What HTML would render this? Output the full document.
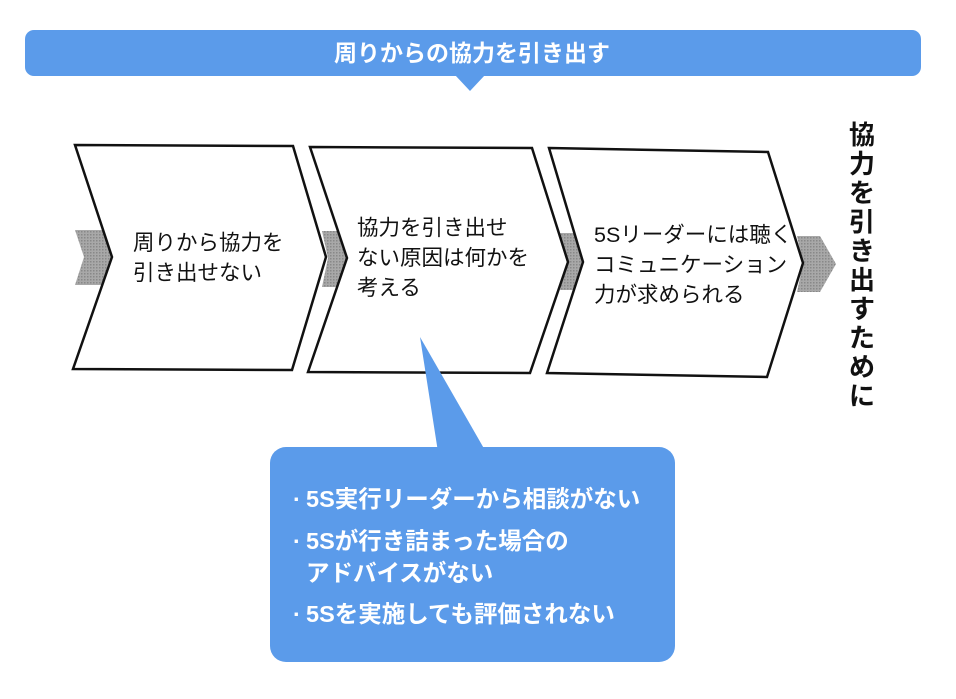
<!DOCTYPE html>
<html><head><meta charset="utf-8"><style>
body{margin:0;width:956px;height:694px;background:#fff;overflow:hidden;font-family:"Liberation Sans","Noto Sans CJK JP",sans-serif;}
</style></head><body>
<svg width="956" height="694" viewBox="0 0 956 694" xmlns="http://www.w3.org/2000/svg" font-family="Liberation Sans, Noto Sans CJK JP, sans-serif">
<defs>
<pattern id="g" width="3" height="3" patternUnits="userSpaceOnUse"><rect width="3" height="3" fill="#a8a8a8"/><rect width="1.5" height="1.5" fill="#888"/></pattern>
</defs>
<rect x="25" y="30" width="896" height="46" rx="9" fill="#5b9bea"/>
<polygon points="455,75 485,75 470,91" fill="#5b9bea"/>
<text x="472" y="61" font-size="23" font-weight="bold" fill="#fff" text-anchor="middle">周りからの協力を引き出す</text>
<polygon points="75,230 102,230 112,257 102,285 75,285 84,257" fill="url(#g)"/>
<polygon points="322,231 340,231 347,258 340,287 322,287 328,258" fill="url(#g)"/>
<polygon points="560,233 577,233 583,262 577,290 560,290 566,262" fill="url(#g)"/>
<polygon points="797,236 820,236 836,264 820,292 797,292 803,264" fill="url(#g)"/>
<g fill="#fff" stroke="#111" stroke-width="2.5" stroke-linejoin="miter">
<polygon points="75,145 293,146 326,257 292,370 73,369 112,257"/>
<polygon points="310,147 532,148 568,262 530,373 308,372 347,258"/>
<polygon points="549,148 768,152 803,263 767,377 547,373 583,262"/>
</g>
<g font-size="21.5" fill="#111">
<text x="133" y="250">周りから協力を</text>
<text x="133" y="280">引き出せない</text>
<text x="357" y="235">協力を引き出せ</text>
<text x="357" y="265">ない原因は何かを</text>
<text x="357" y="295">考える</text>
<text x="594" y="242">5Sリーダーには聴く</text>
<text x="594" y="272">コミュニケーション</text>
<text x="594" y="302">力が求められる</text>
</g>
<g font-size="26" font-weight="bold" fill="#111" text-anchor="middle">
<text x="862" y="144">協</text><text x="862" y="173">力</text><text x="862" y="202">を</text>
<text x="862" y="231">引</text><text x="862" y="260">き</text><text x="862" y="289">出</text>
<text x="862" y="318">す</text><text x="862" y="347">た</text><text x="862" y="376">め</text>
<text x="862" y="405">に</text>
</g>
<polygon points="420,337 438,452 486,452" fill="#5b9bea"/>
<rect x="270" y="447" width="405" height="215" rx="16" fill="#5b9bea"/>
<g font-size="23.5" fill="#fff" font-weight="bold">
<text x="293" y="507">·</text><text x="306" y="507">5S実行リーダーから相談がない</text>
<text x="293" y="549">·</text><text x="306" y="549">5Sが行き詰まった場合の</text>
<text x="306" y="581">アドバイスがない</text>
<text x="293" y="622">·</text><text x="306" y="622">5Sを実施しても評価されない</text>
</g>
</svg>
</body></html>
